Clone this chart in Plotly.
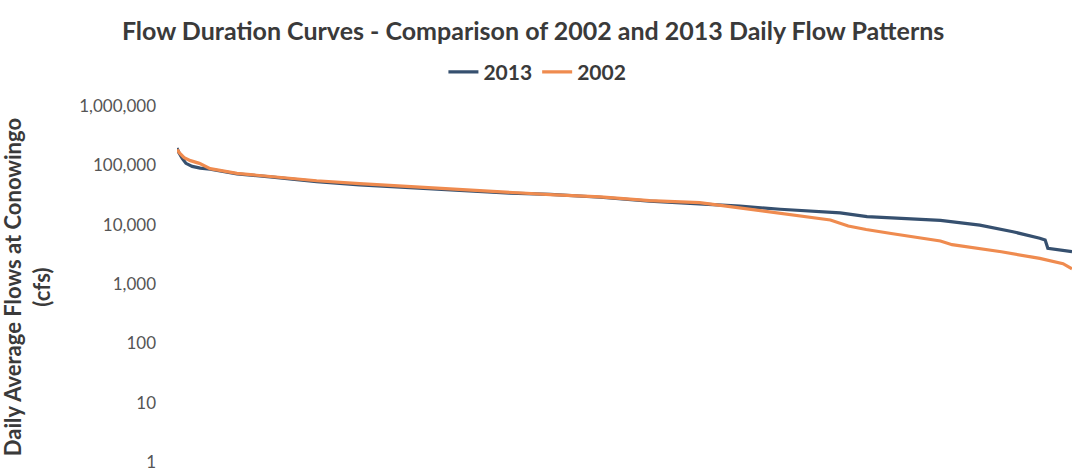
import plotly.graph_objects as go

# Percent of days the flow was equalled or exceeded
pct_2013 = [0.0, 0.2, 0.6, 1.0, 1.7, 2.6, 3.7, 6.7, 10.4, 15.6, 20.4, 26.0, 30.5,
            37.2, 41.7, 47.3, 52.8, 58.4, 62.9, 67.4, 69.6, 74.1, 77.1, 80.8,
            85.3, 89.7, 93.4, 96.4, 97.0, 97.3, 98.7, 100.0]
flow_2013 = [195000, 165000, 130000, 108000, 96000, 90000, 86000, 72000, 64000,
             53000, 47000, 42500, 38500, 34000, 32500, 29000, 25000, 22500, 20500,
             18200, 17200, 15800, 13700, 12800, 11800, 9800, 7600, 5900, 5500,
             4000, 3700, 3500]

pct_2002 = [0.0, 0.3, 0.8, 1.5, 2.5, 3.7, 6.7, 10.4, 15.6, 20.4, 26.0, 30.5, 37.2,
            41.7, 47.3, 52.8, 58.4, 62.9, 67.4, 69.6, 73.0, 75.0, 77.0, 79.8,
            82.8, 85.3, 86.6, 89.7, 92.1, 96.4, 99.0, 100.0]
flow_2002 = [185000, 160000, 135000, 120000, 108000, 88000, 73000, 65000, 55000,
             49000, 44000, 39500, 34500, 32000, 29500, 25500, 23500, 19000, 15200,
             14000, 12000, 9500, 8300, 7100, 6000, 5300, 4600, 4000, 3500, 2700,
             2200, 1800]

tick_vals = [1, 10, 100, 1000, 10000, 100000, 1000000]
tick_text = ["1", "10", "100", "1,000", "10,000", "100,000", "1,000,000"]

BLUE = "#36506F"
ORANGE = "#EF8B4F"
FONT = "Lato"

fig = go.Figure()
fig.add_trace(go.Scatter(x=pct_2013, y=flow_2013, mode="lines", name="<b>2013</b>",
                         line=dict(color=BLUE, width=3.2)))
fig.add_trace(go.Scatter(x=pct_2002, y=flow_2002, mode="lines", name="<b>2002</b>",
                         line=dict(color=ORANGE, width=3.2)))

fig.update_layout(
    width=1077, height=472,
    margin=dict(l=177, r=5, t=106, b=10),
    paper_bgcolor="white", plot_bgcolor="white",
    font=dict(family=FONT, color="#404040"),
    title=dict(text="<b>Flow Duration Curves - Comparison of 2002 and 2013 Daily Flow Patterns</b>",
               x=0.495, xref="container", xanchor="center",
               y=0.934, yref="container", yanchor="middle",
               font=dict(size=25, color="#3A3A3A", family=FONT)),
    legend=dict(orientation="h", x=0.499, xref="container", xanchor="center",
                y=0.847, yref="container", yanchor="middle",
                font=dict(size=21, color="#3A3A3A", family=FONT),
                itemwidth=30, tracegroupgap=0),
    showlegend=True,
)
fig.update_xaxes(range=[0, 100], showgrid=False, zeroline=False,
                 showticklabels=False, ticks="", showline=False, automargin=False)
fig.update_yaxes(type="log", range=[0, 6], tickvals=tick_vals, ticktext=tick_text,
                 showgrid=False, zeroline=False, showline=False, ticks="",
                 ticklabelstandoff=20, ticklabeloverflow="allow", automargin=False,
                 tickfont=dict(size=17, color="#555555", family=FONT))

fig.add_annotation(text="<b>Daily Average Flows at Conowingo<br>(cfs)</b>",
                   xref="paper", yref="paper", x=-0.168, y=0.49,
                   xanchor="center", yanchor="middle", textangle=-90,
                   showarrow=False,
                   font=dict(size=22, color="#3A3A3A", family=FONT))

fig.write_html("out.html")
